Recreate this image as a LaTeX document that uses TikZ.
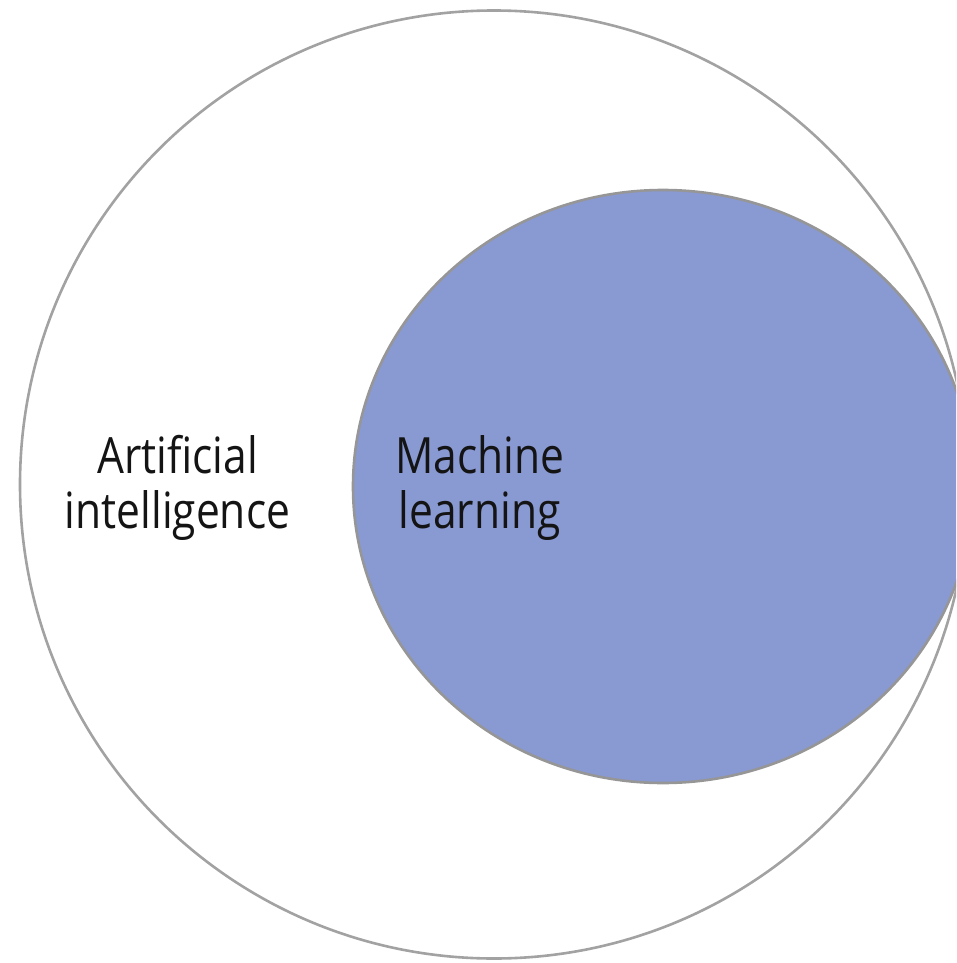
\documentclass[tikz,border=0pt]{standalone}
\usepackage{fontspec}
\newfontfamily\labelfont[FakeStretch=0.85]{Open Sans}
\definecolor{mlblue}{RGB}{137,153,210}
\definecolor{ringgray}{RGB}{162,162,162}
\definecolor{edgegray}{RGB}{150,150,150}
\definecolor{labelink}{RGB}{20,20,20}
\begin{document}
\begin{tikzpicture}[x=1pt,y=-1pt,
  ring/.style={draw=ringgray, line width=2.6pt},
  mlset/.style={draw=edgegray, line width=2.6pt, fill=mlblue},
  setlabel/.style={font=\labelfont\fontsize{50}{55}\selectfont, text=labelink, inner sep=0pt, anchor=base}]
  \useasboundingbox (0,0) rectangle (956,963);
  \begin{scope}
    \clip (0,0) rectangle (956,963);
    % outer set: artificial intelligence
    \draw[ring] (494,484.5) circle [radius=474];
    % inner set: machine learning
    \draw[mlset] (663,486.5) ellipse [x radius=310, y radius=296.5];
  \end{scope}
  \node[setlabel] (ai1) at (177.5,473) {Artificial};
  \node[setlabel] (ai2) at (177.5,528) {intelligence};
  \node[setlabel] (ml1) at (479.5,473) {Machine};
  \node[setlabel] (ml2) at (479.5,528) {learning};
\end{tikzpicture}
\end{document}
